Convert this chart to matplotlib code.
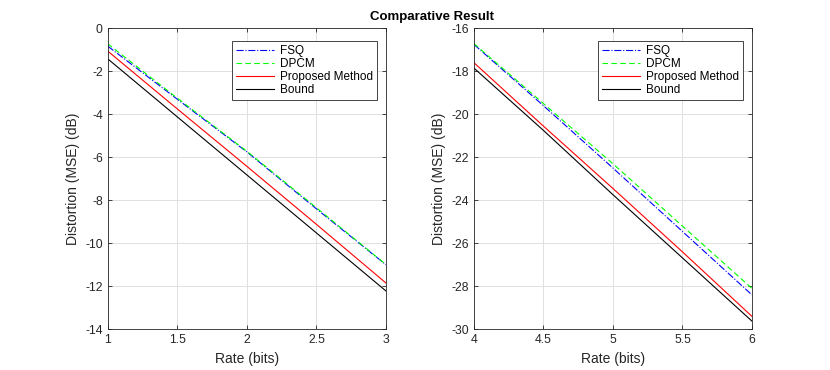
import matplotlib
matplotlib.use('Agg')
import matplotlib.pyplot as plt
import matplotlib.ticker as ticker

plt.rcParams['font.family'] = ['Liberation Sans', 'DejaVu Sans']
plt.rcParams['axes.unicode_minus'] = False

# left panel: rate 1..3 bits
rate_lo = [1, 1.5, 2, 2.5, 3]
fsq_lo = [-0.83, -3.30, -5.75, -8.40, -11.00]
dpcm_lo = [-0.72, -3.25, -5.72, -8.35, -10.99]
prop_lo = [-1.06, -3.75, -6.42, -9.12, -11.85]
bound_lo = [-1.42, -4.12, -6.82, -9.52, -12.22]

# right panel: rate 4..6 bits
rate_hi = [4, 4.5, 5, 5.5, 6]
fsq_hi = [-16.75, -19.60, -22.50, -25.45, -28.40]
dpcm_hi = [-16.71, -19.50, -22.30, -25.20, -28.10]
prop_hi = [-17.60, -20.55, -23.45, -26.40, -29.40]
bound_hi = [-17.85, -20.75, -23.74, -26.68, -29.62]

labels = ['FSQ', 'DPCM', 'Proposed Method', 'Bound']
dark = (0.15, 0.15, 0.15)

fig = plt.figure(figsize=(8.3, 3.7), dpi=100)
ax1 = fig.add_axes([0.1298, 0.110, 0.3353, 0.8135])
ax2 = fig.add_axes([0.571, 0.110, 0.335, 0.8135])


def draw(ax, x, fsq, dpcm, prop, bound, xlim, ylim, yticks):
    ax.plot(x, fsq, color='b', ls='-.', lw=0.8)
    ax.plot(x, dpcm, color=(0, 1, 0), ls='--', lw=0.8, dashes=(5, 3))
    ax.plot(x, prop, color='r', lw=0.8)
    ax.plot(x, bound, color='k', lw=0.8)
    ax.set_xlim(xlim)
    ax.set_ylim(ylim)
    ax.set_xticks([xlim[0] + 0.5 * i for i in range(5)])
    ax.set_yticks(yticks)
    ax.xaxis.set_major_formatter(ticker.FormatStrFormatter('%g'))
    ax.grid(True, color=(0.88, 0.88, 0.88), lw=0.7)
    ax.set_axisbelow(True)
    ax.tick_params(direction='in', top=True, right=True, length=3,
                   labelsize=8.8, colors=dark, width=0.6)
    for s in ax.spines.values():
        s.set_color(dark)
        s.set_linewidth(0.6)
    ax.set_xlabel('Rate (bits)', fontsize=10, color=dark)
    ax.set_ylabel('Distortion (MSE) (dB)', fontsize=10, color=dark)
    leg = ax.legend(labels, loc='upper right', bbox_to_anchor=(0.967, 0.959),
                    borderaxespad=0, fontsize=8.5, fancybox=False,
                    framealpha=1, edgecolor=dark, handlelength=3.2,
                    labelspacing=0.1, borderpad=0.35, handletextpad=0.5)
    leg.get_frame().set_linewidth(0.6)


draw(ax1, rate_lo, fsq_lo, dpcm_lo, prop_lo, bound_lo, (1, 3), (-14, 0),
     range(-14, 1, 2))
draw(ax2, rate_hi, fsq_hi, dpcm_hi, prop_hi, bound_hi, (4, 6), (-30, -16),
     range(-30, -15, 2))

fig.text(0.52, 0.953, 'Comparative Result', ha='center', va='center',
         fontsize=9.5, fontweight='bold')

fig.savefig('out.png', dpi=100)
